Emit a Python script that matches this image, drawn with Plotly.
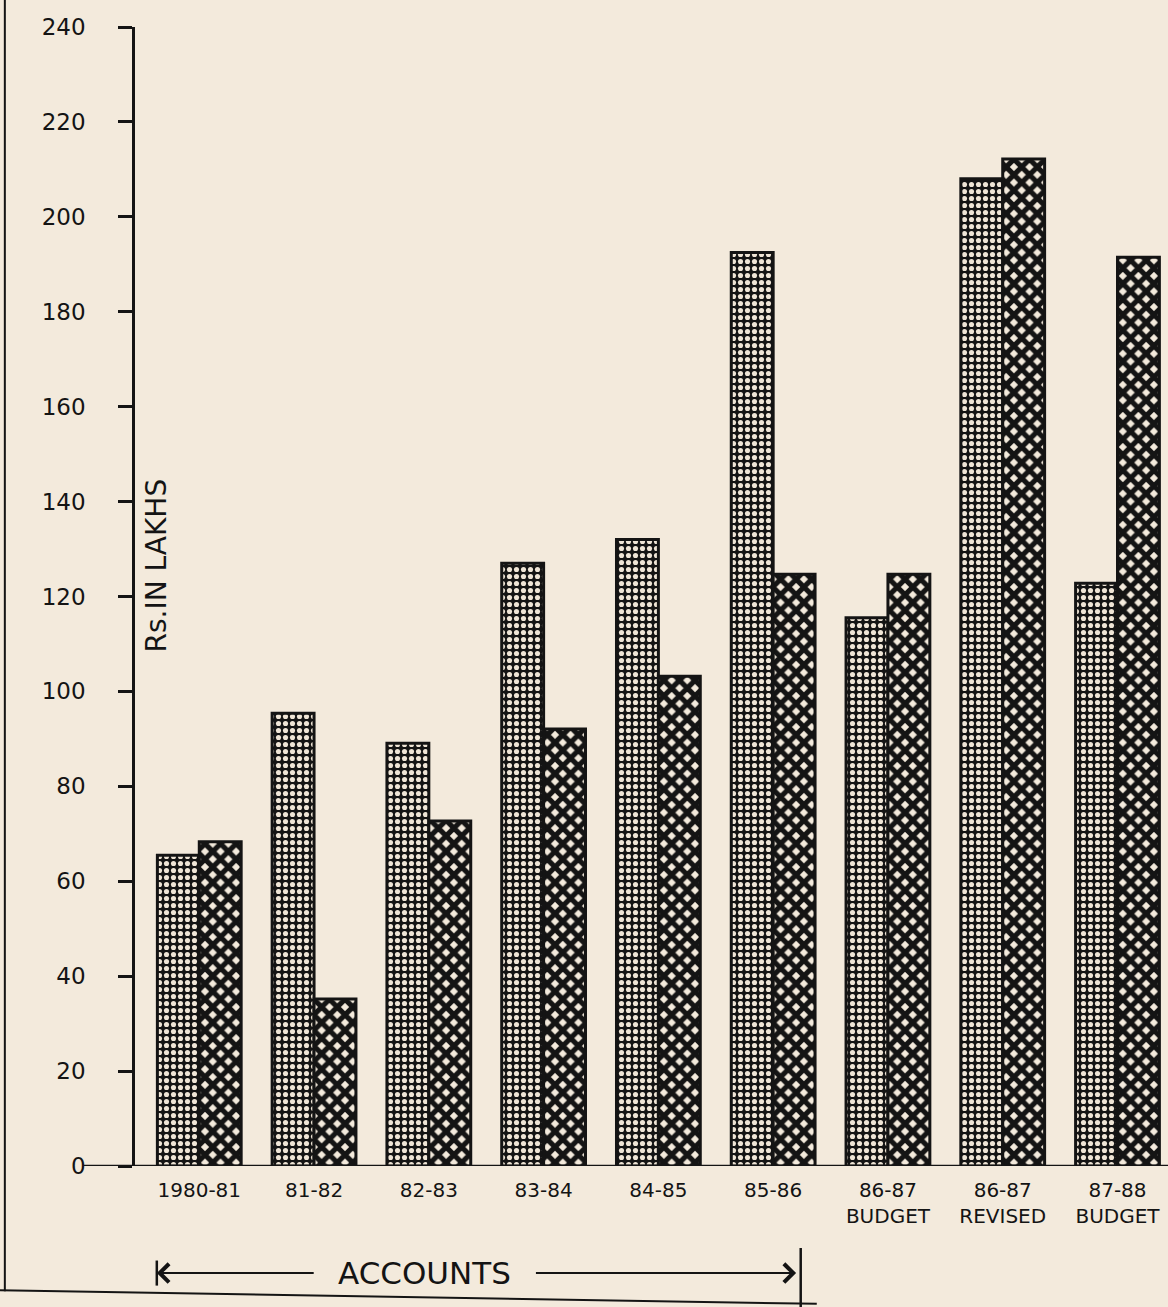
import plotly.graph_objects as go

categories = ["1980-81", "81-82", "82-83", "83-84", "84-85", "85-86",
              "86-87<br>BUDGET", "86-87<br>REVISED", "87-88<br>BUDGET"]
series_dotted = [65.5, 95.4, 89.1, 127.0, 132.0, 192.5, 115.5, 208.0, 122.8]
series_hatched = [68.3, 35.2, 72.7, 92.1, 103.2, 124.7, 124.7, 212.2, 191.5]
y_ticks = [0, 20, 40, 60, 80, 100, 120, 140, 160, 180, 200, 220, 240]
y_tick_labels = ["0", "20", "40", "60", "80", "100", "120", "140", "160", "180", "200", "220", "240"]

PAPER = "#f3eadc"
INK = "#141414"
FONT = "DejaVu Sans"

x_idx = list(range(len(categories)))

fig = go.Figure()
fig.add_trace(go.Bar(
    x=x_idx, y=series_dotted, name="dotted",
    marker=dict(
        color=INK,
        line=dict(color=INK, width=3),
        pattern=dict(shape=".", fgcolor="#efe5d6", bgcolor=INK,
                     size=7, solidity=0.42, fillmode="replace"),
    ),
    showlegend=False,
))
fig.add_trace(go.Bar(
    x=x_idx, y=series_hatched, name="hatched",
    marker=dict(
        color=PAPER,
        line=dict(color=INK, width=3),
        pattern=dict(shape="x", fgcolor=INK, bgcolor=PAPER,
                     size=11, solidity=0.72, fillmode="replace"),
    ),
    showlegend=False,
))

fig.update_layout(
    width=1168, height=1307,
    paper_bgcolor=PAPER, plot_bgcolor=PAPER,
    margin=dict(l=135, r=0, t=27, b=141),
    barmode="group", bargap=0.27, bargroupgap=0.0,
    font=dict(family=FONT, color=INK, size=20),
    xaxis=dict(
        range=[-0.56, 8.44],
        tickmode="array", tickvals=x_idx, ticktext=categories,
        showgrid=False, zeroline=False, showline=False, ticks="",
        ticklabelstandoff=10,
        tickfont=dict(family=FONT, size=20, color=INK),
    ),
    yaxis=dict(
        range=[0, 240],
        tickmode="array", tickvals=y_ticks, ticktext=y_tick_labels,
        showgrid=False, zeroline=False,
        showline=True, linecolor=INK, linewidth=2.5,
        ticks="outside", ticklen=14, tickwidth=2.5, tickcolor=INK,
        ticklabelstandoff=28,
        tickfont=dict(family=FONT, size=23, color=INK),
    ),
)

# baseline
fig.add_shape(type="line", xref="paper", yref="y", x0=-0.05, x1=1.0, y0=0, y1=0,
              line=dict(color=INK, width=2.5))

# y-axis title inside plot
fig.add_annotation(x=-0.37, y=126.5, xref="x", yref="y", text="Rs.IN LAKHS",
                   textangle=-90, showarrow=False,
                   font=dict(family=FONT, size=28, color=INK))

# ACCOUNTS span arrow
yp = -0.094
fig.add_annotation(x=-0.37, y=yp, xref="x", yref="paper", ax=1.01, ay=0,
                   axref="x", ayref="pixel", text="", showarrow=True,
                   arrowhead=4, arrowsize=1.8, arrowwidth=2, arrowcolor=INK)
fig.add_annotation(x=5.2, y=yp, xref="x", yref="paper", ax=2.92, ay=0,
                   axref="x", ayref="pixel", text="", showarrow=True,
                   arrowhead=4, arrowsize=1.8, arrowwidth=2, arrowcolor=INK)
fig.add_annotation(x=1.96, y=yp, xref="x", yref="paper", text="ACCOUNTS",
                   showarrow=False, yshift=-20,
                   font=dict(family=FONT, size=31, color=INK))
fig.add_shape(type="line", xref="x", yref="paper", x0=-0.37, x1=-0.37,
              y0=yp - 0.011, y1=yp + 0.011, line=dict(color=INK, width=2.5))
fig.add_shape(type="line", xref="x", yref="paper", x0=5.24, x1=5.24,
              y0=yp - 0.04, y1=yp + 0.022, line=dict(color=INK, width=2.5))

# page border lines
fig.add_shape(type="line", xref="paper", yref="paper", x0=-0.126, x1=-0.126,
              y0=1.03, y1=-0.11, line=dict(color=INK, width=2))
fig.add_shape(type="line", xref="paper", yref="paper", x0=-0.135, x1=0.66,
              y0=-0.109, y1=-0.121, line=dict(color=INK, width=2))

fig.write_html(
    "out.html",
    config={"displayModeBar": False},
    post_script="document.body.style.margin='0';document.body.style.overflow='hidden';"
                "document.body.style.background='#f3eadc';",
)
